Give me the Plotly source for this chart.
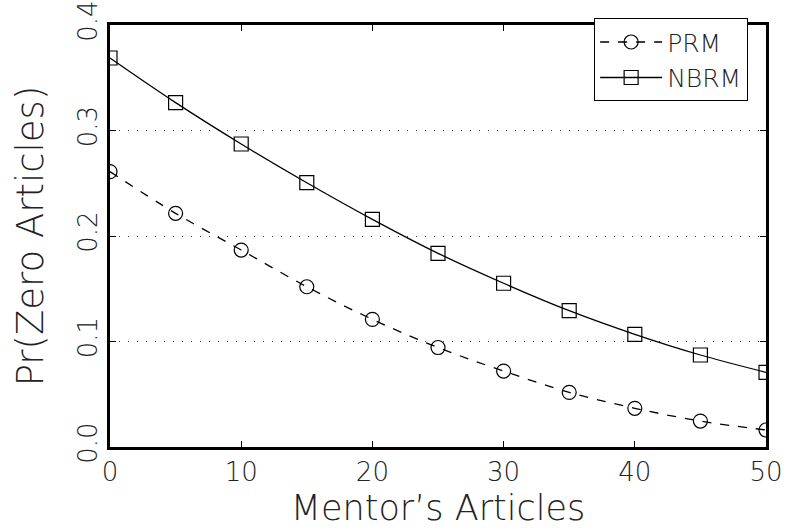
import plotly.graph_objects as go

mentor_articles = [0, 5, 10, 15, 20, 25, 30, 35, 40, 45, 50]
prm = [0.261, 0.2215, 0.1867, 0.1519, 0.121, 0.0943, 0.072, 0.0518, 0.0367, 0.0246, 0.0161]
nbrm = [0.3687, 0.3264, 0.2872, 0.2505, 0.2158, 0.1836, 0.1552, 0.1292, 0.1068, 0.0872, 0.0708]
x_ticks = [0, 10, 20, 30, 40, 50]
y_ticks = [0.0, 0.1, 0.2, 0.3, 0.4]
y_tick_labels = ["0.0", "0.1", "0.2", "0.3", "0.4"]

FONT = "DejaVu Sans"

fig = go.Figure()
fig.add_trace(go.Scatter(
    x=mentor_articles, y=prm, name="PRM", mode="lines+markers",
    line=dict(color="black", width=1.3, dash="dash", shape="spline"),
    marker=dict(symbol="circle-open", size=14, color="black", line=dict(width=1.2)),
))
fig.add_trace(go.Scatter(
    x=mentor_articles, y=nbrm, name="NBRM", mode="lines+markers",
    line=dict(color="black", width=1.3, shape="spline"),
    marker=dict(symbol="square-open", size=14, color="black", line=dict(width=1.2)),
))

fig.update_layout(
    width=786, height=531,
    margin=dict(l=110, r=20, t=25, b=84, autoexpand=False),
    paper_bgcolor="white", plot_bgcolor="white",
    font=dict(family=FONT, color="#222", weight=200),
    showlegend=True,
    legend=dict(
        x=0.738, y=1.016, xanchor="left", yanchor="top",
        bgcolor="white", bordercolor="black", borderwidth=1,
        font=dict(size=25, family=FONT, weight=200),
        itemwidth=62, tracegroupgap=0,
    ),
    xaxis=dict(
        range=[0, 50], tickvals=x_ticks, ticks="inside", ticklen=6,
        tickcolor="black", mirror="ticks", showline=True, linecolor="black",
        linewidth=2.5, showgrid=False, zeroline=False,
        tickfont=dict(size=26, family=FONT, weight=200),
        title=dict(text="Mentor\u2019s Articles", font=dict(size=35, family=FONT, weight=200), standoff=10),
    ),
    yaxis=dict(
        range=[0, 0.4], tickvals=y_ticks, ticktext=y_tick_labels, ticks="inside",
        ticklen=6, tickcolor="black", mirror="ticks", showline=True,
        linecolor="black", linewidth=2.5, showgrid=True, gridcolor="#444",
        griddash="1px,8px", gridwidth=1.2, zeroline=False, tickangle=-90,
        tickfont=dict(size=26, family=FONT, weight=200),
        title=dict(text="Pr(Zero Articles)", font=dict(size=37, family=FONT, weight=200), standoff=18),
    ),
)

fig.write_html(
    "out.html",
    config={"displayModeBar": False},
    post_script="document.body.style.margin='0px';document.body.style.overflow='hidden';",
)
